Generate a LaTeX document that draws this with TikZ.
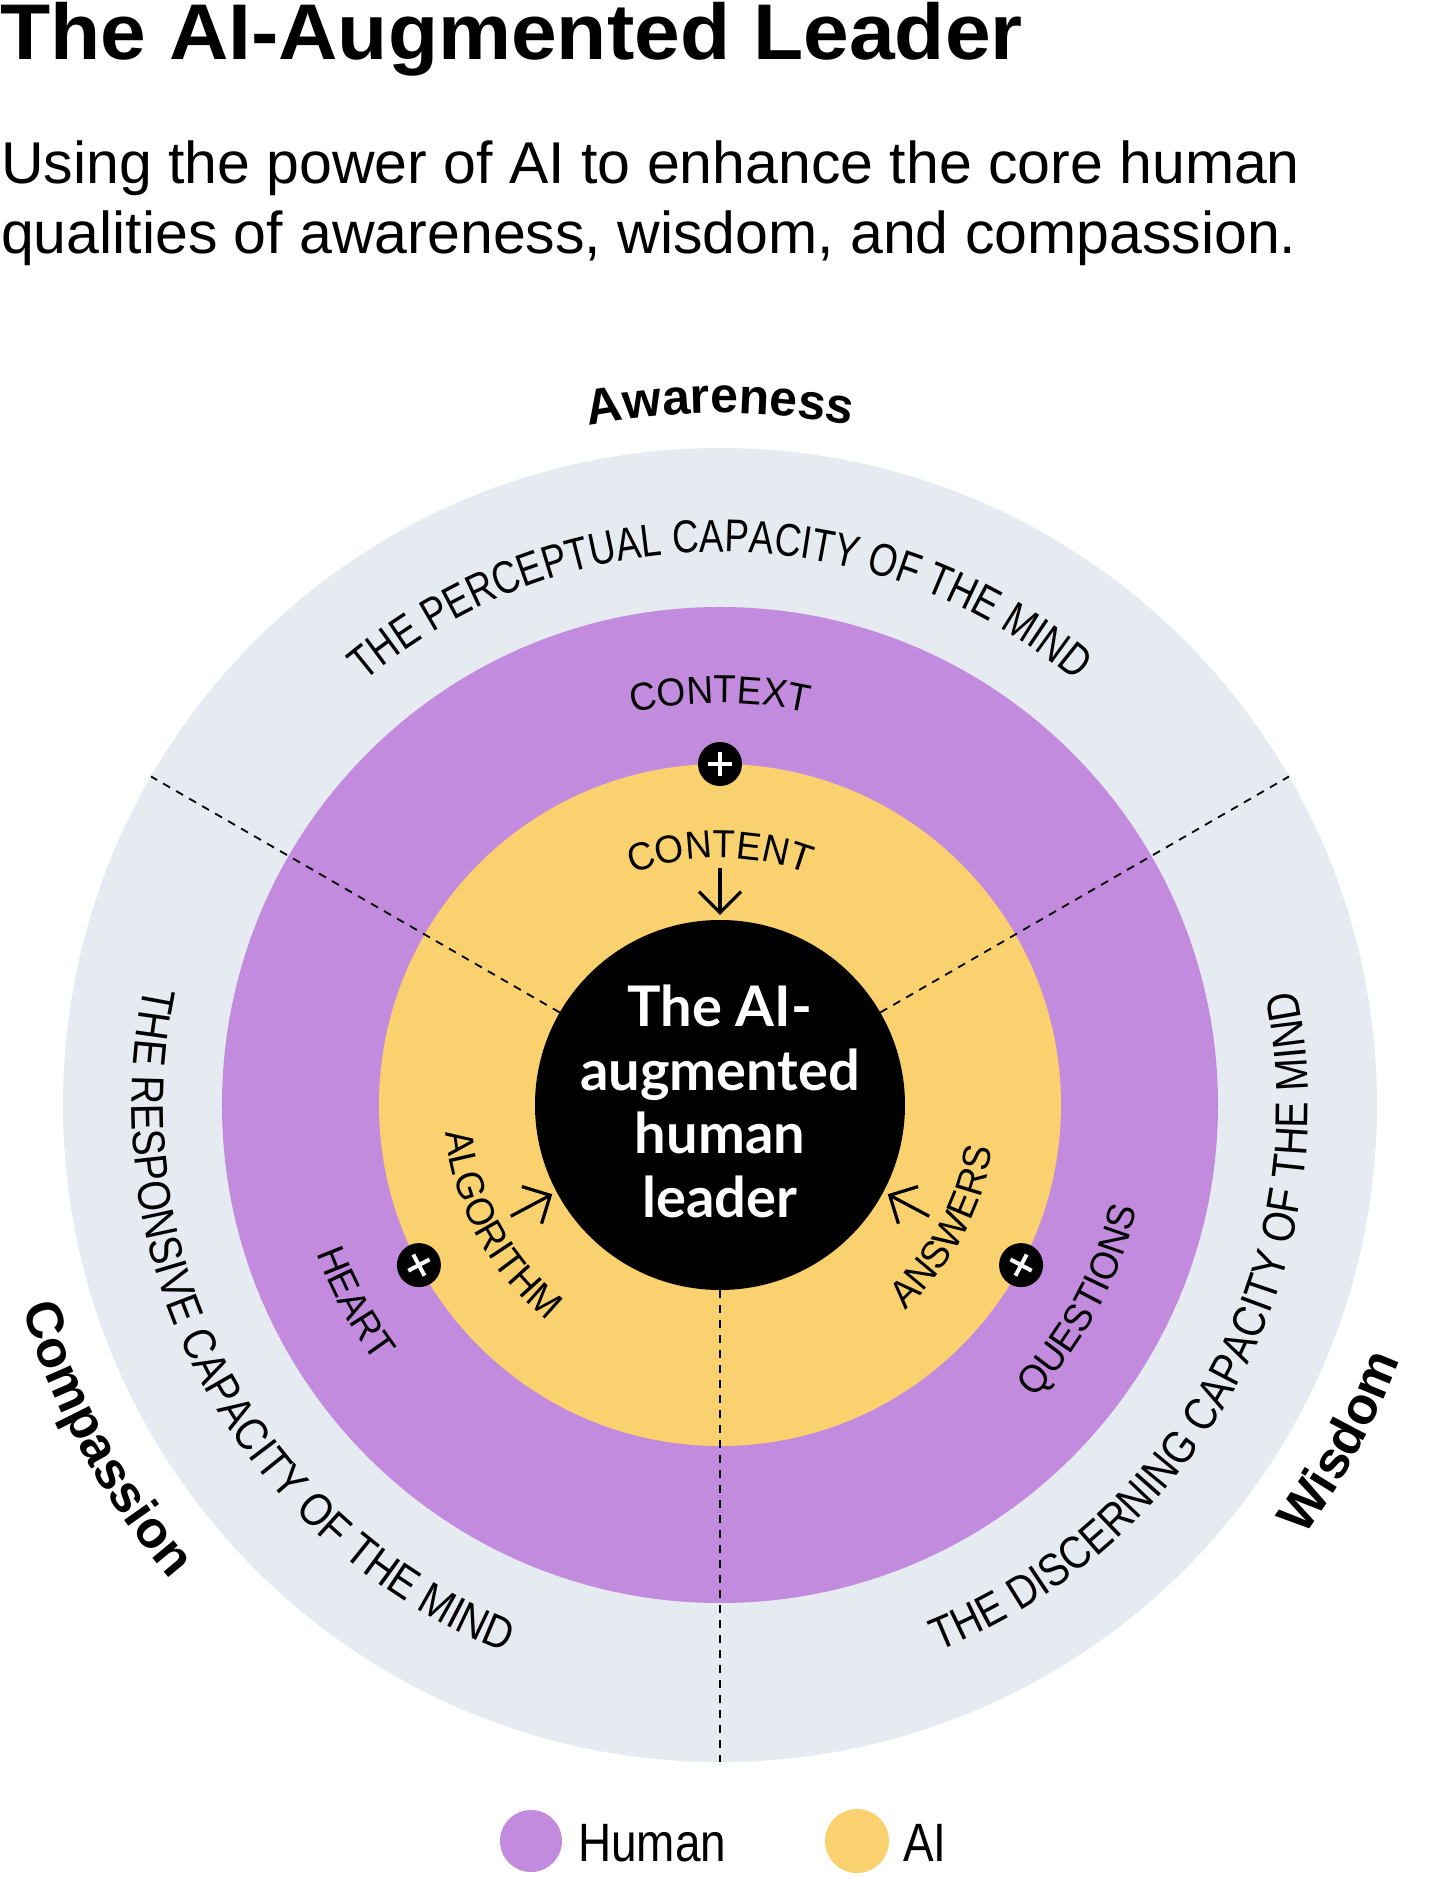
\documentclass[tikz,border=0pt]{standalone}
\usepackage{fontspec}
\setmainfont{Liberation Sans}
\newfontfamily\titlefont[FakeStretch=1.04]{Liberation Sans}
\newfontfamily\ringfont[FakeStretch=0.8]{Liberation Sans}
\newfontfamily\ringfontb[FakeStretch=0.86]{Liberation Sans}
\newfontfamily\innerfont[FakeStretch=0.95]{Liberation Sans}
\newfontfamily\legendfont[FakeStretch=0.85]{Liberation Sans}
\newfontfamily\centerfont{Lato}
\usetikzlibrary{decorations.text,arrows.meta}
\definecolor{ringgray}{RGB}{230,235,242}
\definecolor{humanpurple}{RGB}{195,139,222}
\definecolor{aiyellow}{RGB}{249,209,110}
\newcommand{\arccw}[4]{\path[decorate,decoration={text along path,text align=center,text={|#3|#4}}] ({#2+90}:#1) arc[start angle={#2+90}, end angle={#2-90}, radius=#1];}
\newcommand{\arcccw}[4]{\path[decorate,decoration={text along path,text align=center,text={|#3|#4}}] ({#2-90}:#1) arc[start angle={#2-90}, end angle={#2+90}, radius=#1];}
\tikzset{
  marker/.style={circle, fill=black, minimum size=44pt, inner sep=0pt},
  plusline/.style={white, line width=4pt},
  dashline/.style={black, line width=1.8pt, dash pattern=on 8pt off 7pt},
  arr/.style={black, line width=3.2pt, -{Straight Barb[length=21pt, width=42pt]}},
  centerline/.style={anchor=base, inner sep=0pt, text=white, font=\centerfont\bfseries\fontsize{56}{56}\selectfont},
  legendtext/.style={anchor=base west, inner sep=0pt, font=\legendfont\fontsize{54}{54}\selectfont},
}
\begin{document}
\begin{tikzpicture}[x=1pt,y=1pt]
\useasboundingbox (-720,-790) rectangle (720,1105);
\fill[white] (-720,-790) rectangle (720,1105);
% title
\node[anchor=base west, inner sep=0pt, font=\titlefont\bfseries\fontsize{79}{79}\selectfont] (title) at (-720,1045) {The AI-Augmented Leader};
\node[anchor=base west, inner sep=0pt, font=\fontsize{59}{59}\selectfont] (sub1) at (-719,921) {Using the power of AI to enhance the core human};
\node[anchor=base west, inner sep=0pt, font=\fontsize{59}{59}\selectfont] (sub2) at (-719,851) {qualities of awareness, wisdom, and compassion.};
% rings
\fill[ringgray] (0,0) circle[radius=657];
\fill[humanpurple] (0,0) circle[radius=498];
\fill[aiyellow] (0,0) circle[radius=341];
% dashed dividers
\foreach \a/\n in {30/da,150/db,270/dc}{
  \coordinate (\n1) at (\a:185);
  \coordinate (\n2) at (\a:657);
  \draw[dashline] (\n1) -- (\n2);
}
% center
\node[circle, fill=black, minimum size=370pt, inner sep=0pt] (core) at (0,0) {};
\node[centerline] (c1) at (0,78) {The AI-};
\node[centerline] (c2) at (0,15) {augmented};
\node[centerline] (c3) at (0,-48) {human};
\node[centerline] (c4) at (0,-112) {leader};
% markers
\foreach \a/\n in {90/mt,208/ml,332/mr}{
  \node[marker] (\n) at (\a:341) {};
  \draw[plusline] ([shift={(\a:12)}]\n.center) -- ([shift={(\a+180:12)}]\n.center);
  \draw[plusline] ([shift={(\a+90:12)}]\n.center) -- ([shift={(\a-90:12)}]\n.center);
}
% arrows
\foreach \a/\n in {90/at,208/al,332/ar}{
  \coordinate (\n s) at (\a:237);
  \coordinate (\n e) at (\a:190);
  \draw[arr] (\n s) -- (\n e);
}
% outer bold labels
\arccw{692}{90}{\bfseries\fontsize{50}{50}\selectfont}{Awareness}
\arcccw{726}{208.5}{\bfseries\fontsize{52}{52}\selectfont}{Compassion}
\arcccw{726}{331.5}{\bfseries\fontsize{52}{52}\selectfont}{Wisdom}
% gray ring labels
\arccw{553}{90}{\ringfont\fontsize{46}{46}\selectfont}{THE PERCEPTUAL CAPACITY OF THE MIND}
\arcccw{588}{208.5}{\ringfontb\fontsize{46}{46}\selectfont}{THE RESPONSIVE CAPACITY OF THE MIND}
\arcccw{588}{331.5}{\ringfontb\fontsize{46}{46}\selectfont}{THE DISCERNING CAPACITY OF THE MIND}
% purple ring labels
\arccw{402}{90}{\innerfont\fontsize{39}{39}\selectfont}{CONTEXT}
\arcccw{430}{208.5}{\innerfont\fontsize{39}{39}\selectfont}{HEART}
\arcccw{430}{331.5}{\innerfont\fontsize{39}{39}\selectfont}{QUESTIONS}
% yellow ring labels
\arccw{247}{90}{\innerfont\fontsize{39}{39}\selectfont}{CONTENT}
\arcccw{276}{208.5}{\innerfont\fontsize{39}{39}\selectfont}{ALGORITHM}
\arcccw{276}{331.5}{\innerfont\fontsize{39}{39}\selectfont}{ANSWERS}
% legend
\node[circle, fill=humanpurple, minimum size=62pt, inner sep=0pt] (lh) at (-189,-736) {};
\node[legendtext] (lht) at (-142,-756) {Human};
\node[circle, fill=aiyellow, minimum size=64pt, inner sep=0pt] (la) at (137,-736) {};
\node[legendtext] (lat) at (183,-756) {AI};
\end{tikzpicture}
\end{document}
